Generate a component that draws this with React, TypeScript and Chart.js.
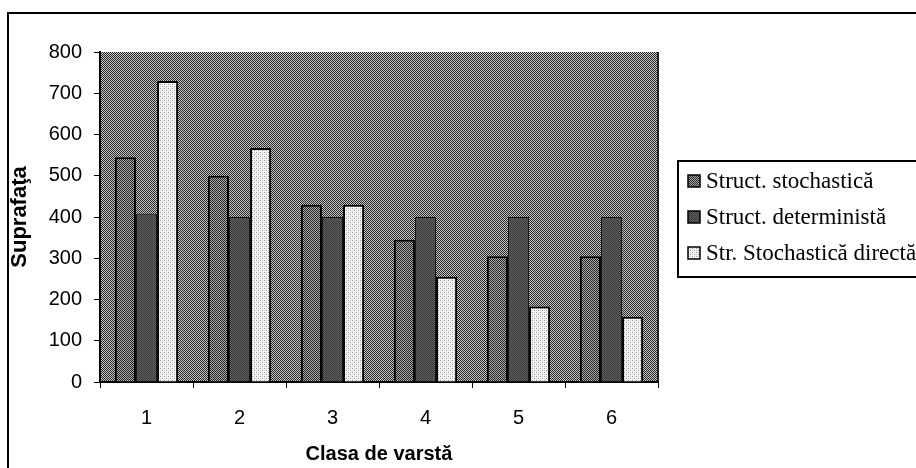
import React, { useEffect, useRef } from 'react';
import { Chart, registerables } from 'chart.js';

Chart.register(...registerables);

// ---- data ----
const categories = ['1', '2', '3', '4', '5', '6'];
const seriesNames = ['Struct. stochastică', 'Struct. deterministă', 'Str. Stochastică directă'];
const stochastic = [545, 500, 430, 345, 305, 305];
const deterministic = [408, 400, 400, 400, 400, 400];
const directStochastic = [730, 567, 430, 255, 183, 158];
const yMin = 0;
const yMax = 800;
const yStep = 100;
const xTitle = 'Clasa de varstă';
const yTitle = 'Suprafaţa';

function makePattern(size: number, base: string, pixels: Array<[number, number, string]>): CanvasPattern | string {
  const c = document.createElement('canvas');
  c.width = size;
  c.height = size;
  const g = c.getContext('2d');
  if (!g) return base;
  g.fillStyle = base;
  g.fillRect(0, 0, size, size);
  pixels.forEach(([x, y, col]) => {
    g.fillStyle = col;
    g.fillRect(x, y, 1, 1);
  });
  const ctx = document.createElement('canvas').getContext('2d');
  const p = ctx ? ctx.createPattern(c, 'repeat') : null;
  return p || base;
}

export default function App() {
  const ref = useRef<HTMLCanvasElement | null>(null);

  useEffect(() => {
    document.body.style.margin = '0';
    const canvas = ref.current;
    if (!canvas) return;

    const bgPattern = makePattern(2, '#2c2c2c', [[1, 0, '#c2c2c2'], [0, 1, '#c2c2c2']]);
    const stochPattern = makePattern(2, '#262626', [[1, 0, '#a8a8a8'], [0, 1, '#a8a8a8']]);
    const determPattern = makePattern(2, '#3c3c3c', [[1, 0, '#5e5e5e'], [0, 1, '#5e5e5e']]);
    const directPattern = makePattern(4, '#f4f4f4', [[0, 0, '#9a9a9a'], [2, 2, '#9a9a9a'], [2, 0, '#d2d2d2'], [0, 2, '#d2d2d2']]);

    const fills = [stochPattern, determPattern, directPattern];

    const plotBg = {
      id: 'plotBg',
      beforeDraw(chart: any) {
        const { ctx, chartArea } = chart;
        ctx.save();
        ctx.fillStyle = bgPattern;
        ctx.fillRect(chartArea.left, chartArea.top, chartArea.right - chartArea.left, chartArea.bottom - chartArea.top);
        ctx.strokeStyle = '#222';
        ctx.lineWidth = 2;
        ctx.beginPath();
        ctx.moveTo(chartArea.right, chartArea.top);
        ctx.lineTo(chartArea.right, chartArea.bottom);
        ctx.stroke();
        ctx.restore();
      },
    };

    const frameAndLegend = {
      id: 'frameAndLegend',
      afterDraw(chart: any) {
        const { ctx, chartArea, width, height } = chart;
        ctx.save();
        // outer frame
        ctx.strokeStyle = '#000';
        ctx.lineWidth = 2;
        ctx.strokeRect(8, 13, width, height);
        // legend
        const lx = chartArea.right + 20;
        const cy = (chartArea.top + chartArea.bottom) / 2;
        const spacing = 36;
        const n = chart.data.datasets.length;
        const boxTop = cy - ((n - 1) / 2) * spacing - 20;
        const boxBottom = cy + ((n - 1) / 2) * spacing + 24;
        ctx.strokeRect(lx, boxTop, width - lx + 10, boxBottom - boxTop);
        ctx.font = '23px "Liberation Serif", "Times New Roman", serif';
        ctx.textBaseline = 'middle';
        ctx.textAlign = 'left';
        chart.data.datasets.forEach((ds: any, i: number) => {
          const y = cy + (i - (n - 1) / 2) * spacing;
          ctx.fillStyle = ds.backgroundColor;
          ctx.fillRect(lx + 10, y - 6, 12, 12);
          ctx.lineWidth = 1.5;
          ctx.strokeStyle = '#000';
          ctx.strokeRect(lx + 10, y - 6, 12, 12);
          ctx.fillStyle = '#000';
          ctx.fillText(ds.label, lx + 28, y + 1);
        });
        ctx.restore();
      },
    };

    const tickFont = { family: '"Liberation Sans", Arial, sans-serif', size: 20 };
    const xTitleFont = { family: '"Liberation Sans", Arial, sans-serif', size: 20, weight: 'bold' as const };
    const yTitleFont = { family: '"Liberation Sans", Arial, sans-serif', size: 22, weight: 'bold' as const };

    const chart = new Chart(canvas, {
      type: 'bar',
      data: {
        labels: categories,
        datasets: [
          { label: seriesNames[0], data: stochastic, backgroundColor: fills[0] as any, borderColor: '#000', borderWidth: 2 },
          { label: seriesNames[1], data: deterministic, backgroundColor: fills[1] as any, borderColor: '#111', borderWidth: 1 },
          { label: seriesNames[2], data: directStochastic, backgroundColor: fills[2] as any, borderColor: '#000', borderWidth: 2 },
        ],
      },
      options: {
        responsive: false,
        animation: false,
        devicePixelRatio: 1,
        layout: { padding: { top: 52, right: 258, bottom: 0, left: 0 } },
        datasets: { bar: { categoryPercentage: 0.68, barPercentage: 1.0 } },
        plugins: {
          legend: { display: false },
          tooltip: { enabled: false },
          title: { display: false },
        },
        scales: {
          x: {
            grid: { offset: true, drawOnChartArea: false, drawTicks: true, tickLength: 6, color: '#000', lineWidth: 1 },
            border: { color: '#000', width: 2 },
            ticks: { color: '#000', font: tickFont, padding: 18 },
            title: { display: true, text: xTitle, color: '#000', font: xTitleFont, padding: { top: 0, bottom: 2 } },
            afterFit: (s: any) => { s.height = 86; },
          },
          y: {
            min: yMin,
            max: yMax,
            grid: { drawOnChartArea: false, drawTicks: true, tickLength: 6, color: '#000', lineWidth: 1 },
            border: { color: '#000', width: 2 },
            ticks: { stepSize: yStep, color: '#000', font: tickFont, padding: 12 },
            title: { display: true, text: yTitle, color: '#000', font: yTitleFont, padding: { top: 7, bottom: 0 } },
            afterFit: (s: any) => { s.width = 100; },
          },
        },
      },
      plugins: [plotBg, frameAndLegend],
    });

    return () => chart.destroy();
  }, []);

  return (
    <div style={{ width: 916, height: 468, position: 'relative', background: '#fff' }}>
      <canvas ref={ref} width={916} height={468} style={{ display: 'block' }} />
    </div>
  );
}
